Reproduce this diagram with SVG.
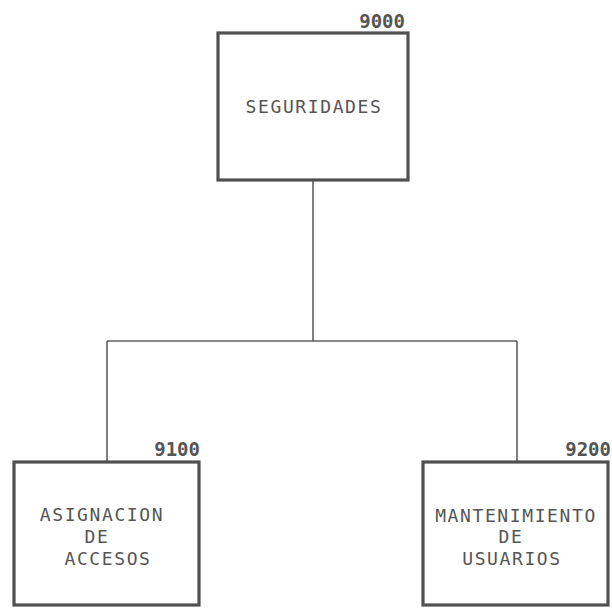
<svg xmlns="http://www.w3.org/2000/svg" width="612" height="608" viewBox="0 0 612 608">
<style>
.box{fill:#fff;stroke:#505050;stroke-width:3.2}
.lbl{font-family:"DejaVu Sans Mono","Liberation Mono",monospace;font-size:18px;letter-spacing:1.6px;fill:#555;text-anchor:middle}
.num{font-family:"DejaVu Sans Mono","Liberation Mono",monospace;font-size:19px;font-weight:bold;fill:#555;text-anchor:end}
.con{fill:none;stroke:#606060;stroke-width:1.6}
</style>
<rect width="612" height="608" fill="#fff"/>
<g id="connectors">
<path class="con" d="M313 180V341M107 341H517M107 341V462M517 341V462"/>
</g>
<g id="n9000">
<rect class="box" x="218" y="33" width="190" height="147"/>
<text class="num" x="405" y="28">9000</text>
<text class="lbl" x="314" y="113">SEGURIDADES</text>
</g>
<g id="n9100">
<rect class="box" x="14" y="462" width="185" height="143"/>
<text class="num" x="200" y="456">9100</text>
<text class="lbl" x="102" y="521">ASIGNACION</text>
<text class="lbl" x="97" y="543">DE</text>
<text class="lbl" x="108" y="565">ACCESOS</text>
</g>
<g id="n9200">
<rect class="box" x="423" y="462" width="185" height="143"/>
<text class="num" x="611" y="456">9200</text>
<text class="lbl" x="516" y="522">MANTENIMIENTO</text>
<text class="lbl" x="511" y="543">DE</text>
<text class="lbl" x="512" y="565">USUARIOS</text>
</g>
</svg>
